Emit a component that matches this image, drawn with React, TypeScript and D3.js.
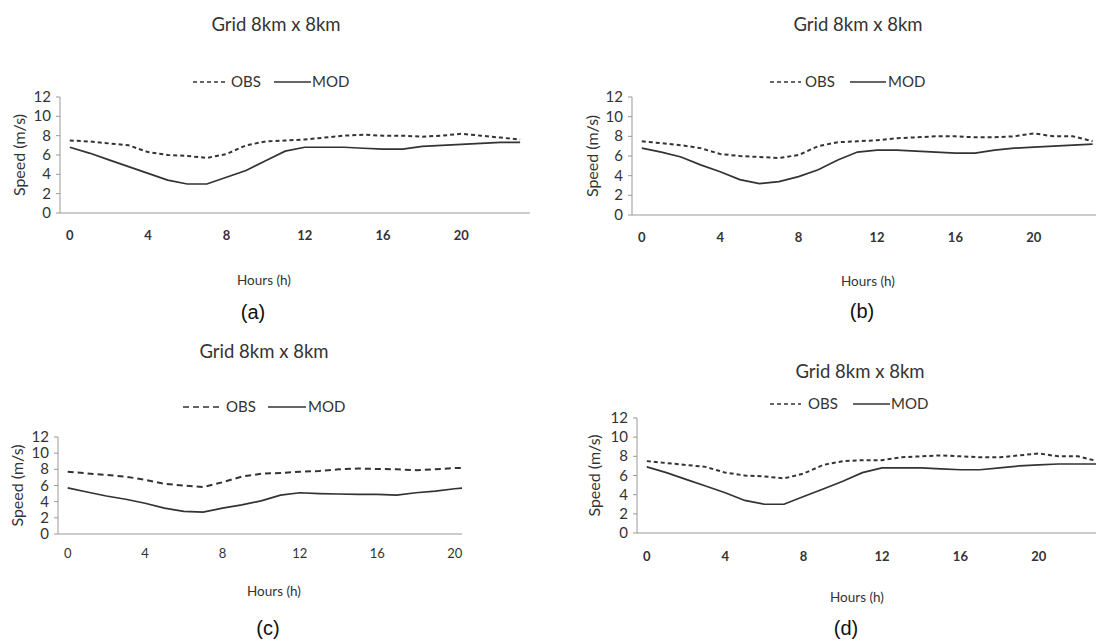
import React from 'react';
import * as d3 from 'd3';

const hours = d3.range(24);
const tickHours = [0, 4, 8, 12, 16, 20];
const yTicks = [0, 2, 4, 6, 8, 10, 12];

const obsA = [7.5, 7.4, 7.2, 7.0, 6.3, 6.0, 5.9, 5.7, 6.1, 7.0, 7.4, 7.5, 7.6, 7.8, 8.0, 8.1, 8.0, 8.0, 7.9, 8.0, 8.2, 8.0, 7.8, 7.6];
const modA = [6.8, 6.2, 5.5, 4.8, 4.1, 3.4, 3.0, 3.0, 3.7, 4.4, 5.4, 6.4, 6.8, 6.8, 6.8, 6.7, 6.6, 6.6, 6.9, 7.0, 7.1, 7.2, 7.3, 7.3];
const obsB = [7.5, 7.3, 7.1, 6.8, 6.2, 6.0, 5.9, 5.8, 6.1, 7.0, 7.4, 7.5, 7.6, 7.8, 7.9, 8.0, 8.0, 7.9, 7.9, 8.0, 8.3, 8.0, 8.0, 7.5];
const modB = [6.8, 6.4, 5.9, 5.1, 4.4, 3.6, 3.2, 3.4, 3.9, 4.6, 5.6, 6.4, 6.6, 6.6, 6.5, 6.4, 6.3, 6.3, 6.6, 6.8, 6.9, 7.0, 7.1, 7.2];
const obsC = [7.7, 7.5, 7.3, 7.1, 6.7, 6.2, 6.0, 5.8, 6.4, 7.1, 7.45, 7.55, 7.7, 7.8, 8.0, 8.1, 8.05, 8.0, 7.9, 8.0, 8.15, 8.2, 8.0, 7.8];
const modC = [5.7, 5.2, 4.7, 4.3, 3.8, 3.2, 2.8, 2.7, 3.2, 3.6, 4.1, 4.8, 5.1, 5.0, 4.95, 4.9, 4.9, 4.8, 5.1, 5.3, 5.6, 5.8, 5.9, 6.0];
const obsD = [7.5, 7.3, 7.1, 6.9, 6.3, 6.0, 5.9, 5.7, 6.2, 7.1, 7.5, 7.6, 7.6, 7.9, 8.0, 8.1, 8.0, 7.9, 7.9, 8.1, 8.3, 8.0, 8.0, 7.5];
const modD = [6.9, 6.3, 5.6, 4.9, 4.2, 3.4, 3.0, 3.0, 3.8, 4.6, 5.4, 6.3, 6.8, 6.8, 6.8, 6.7, 6.6, 6.6, 6.8, 7.0, 7.1, 7.2, 7.2, 7.2];

const title = 'Grid 8km x 8km';

// layout of each panel
const panels = [
  { id: 'a', obs: obsA, mod: modA, left: 60, band: 19.58, y0: 213, y12: 97, clipR: 1096, tickY: 240, bold: true,
    titleX: 276, titleY: 31, legY: 82, obsX: [193, 225], obsT: 231, modX: [274, 311], modT: 312,
    yTitleX: 25, hoursX: 264, hoursY: 285, letX: 253, letY: 319, dash: '4,3' },
  { id: 'b', obs: obsB, mod: modB, left: 632, band: 19.6, y0: 215, y12: 97, clipR: 1096, tickY: 242, bold: true,
    titleX: 858, titleY: 31, legY: 82, obsX: [770, 801], obsT: 805, modX: [850, 886], modT: 888,
    yTitleX: 598, hoursX: 868, hoursY: 286, letX: 862, letY: 318, dash: '4,3' },
  { id: 'c', obs: obsC, mod: modC, left: 58, band: 19.35, y0: 534, y12: 437, clipR: 462, tickY: 558, bold: false,
    titleX: 264, titleY: 358, legY: 407, obsX: [183, 219], obsT: 226, modX: [268, 306], modT: 308,
    yTitleX: 23, hoursX: 274, hoursY: 596, letX: 268, letY: 635, dash: '6,4' },
  { id: 'd', obs: obsD, mod: modD, left: 637, band: 19.6, y0: 533, y12: 418, clipR: 1096, tickY: 561, bold: true,
    titleX: 860, titleY: 378, legY: 404, obsX: [770, 801], obsT: 808, modX: [853, 890], modT: 891,
    yTitleX: 600, hoursX: 857, hoursY: 602, letX: 846, letY: 635, dash: '4,3' },
];

const sans = 'Lato, "Open Sans", sans-serif';
const ink = '#333';

function Panel({ p }: { p: any }) {
  const x = d3.scaleBand<number>().domain(hours).range([p.left, p.left + p.band * 24]);
  const cx = (h: number) => (x(h) as number) + x.bandwidth() / 2;
  const y = d3.scaleLinear().domain([0, 12]).range([p.y0, p.y12]);
  const line = d3.line<number>().x((_, i) => cx(hours[i])).y((v) => y(v));
  const clipId = 'clip-' + p.id;
  const right = Math.min(p.left + p.band * 24, p.clipR);
  return (
    <g>
      <defs>
        <clipPath id={clipId}>
          <rect x={0} y={0} width={p.clipR} height={641} />
        </clipPath>
      </defs>
      <text x={p.titleX} y={p.titleY} textAnchor="middle" fontSize={18.5} fill={ink} fontFamily={sans}>{title}</text>
      <line x1={p.obsX[0]} x2={p.obsX[1]} y1={p.legY} y2={p.legY} stroke={ink} strokeWidth={1.6} strokeDasharray={p.dash} />
      <text x={p.obsT} y={p.legY + 5} fontSize={15} fill={ink} fontFamily={sans}>OBS</text>
      <line x1={p.modX[0]} x2={p.modX[1]} y1={p.legY} y2={p.legY} stroke={ink} strokeWidth={1.6} />
      <text x={p.modT} y={p.legY + 5} fontSize={15} fill={ink} fontFamily={sans}>MOD</text>

      <line x1={p.left} x2={p.left} y1={p.y12} y2={p.y0} stroke="#999" strokeWidth={1} />
      {yTicks.map((t) => (
        <g key={t}>
          <line x1={p.left - 4} x2={p.left} y1={y(t)} y2={y(t)} stroke="#999" />
          <text x={p.left - 9} y={y(t) + 5} textAnchor="end" fontSize={15} fill={ink} fontFamily={sans}>{t}</text>
        </g>
      ))}
      <line x1={p.left} x2={right} y1={p.y0} y2={p.y0} stroke="#999" strokeWidth={1} />
      {tickHours.map((h) => (
        <text key={h} x={cx(h)} y={p.tickY} textAnchor="middle" fontSize={13} fontWeight={p.bold ? 700 : 400} fill={ink} fontFamily={sans}>{h}</text>
      ))}
      <text transform={`translate(${p.yTitleX},${(p.y0 + p.y12) / 2}) rotate(-90)`} textAnchor="middle" fontSize={16} fill={ink} fontFamily={sans}>Speed (m/s)</text>

      <g clipPath={`url(#${clipId})`}>
        <path d={line(p.obs) as string} fill="none" stroke={ink} strokeWidth={2} strokeDasharray={p.dash} />
        <path d={line(p.mod) as string} fill="none" stroke={ink} strokeWidth={1.7} />
      </g>

      <text x={p.hoursX} y={p.hoursY} textAnchor="middle" fontSize={13.5} fill={ink} fontFamily={sans}>Hours (h)</text>
      <text x={p.letX} y={p.letY} textAnchor="middle" fontSize={20} fill="#111" fontFamily='"Liberation Sans", Arial, sans-serif'>({p.id})</text>
    </g>
  );
}

export default function App() {
  return (
    <svg width={1096} height={641} style={{ position: 'absolute', left: 0, top: 0, background: '#fff' }}>
      <rect width={1096} height={641} fill="#fff" />
      {panels.map((p) => <Panel key={p.id} p={p} />)}
    </svg>
  );
}
